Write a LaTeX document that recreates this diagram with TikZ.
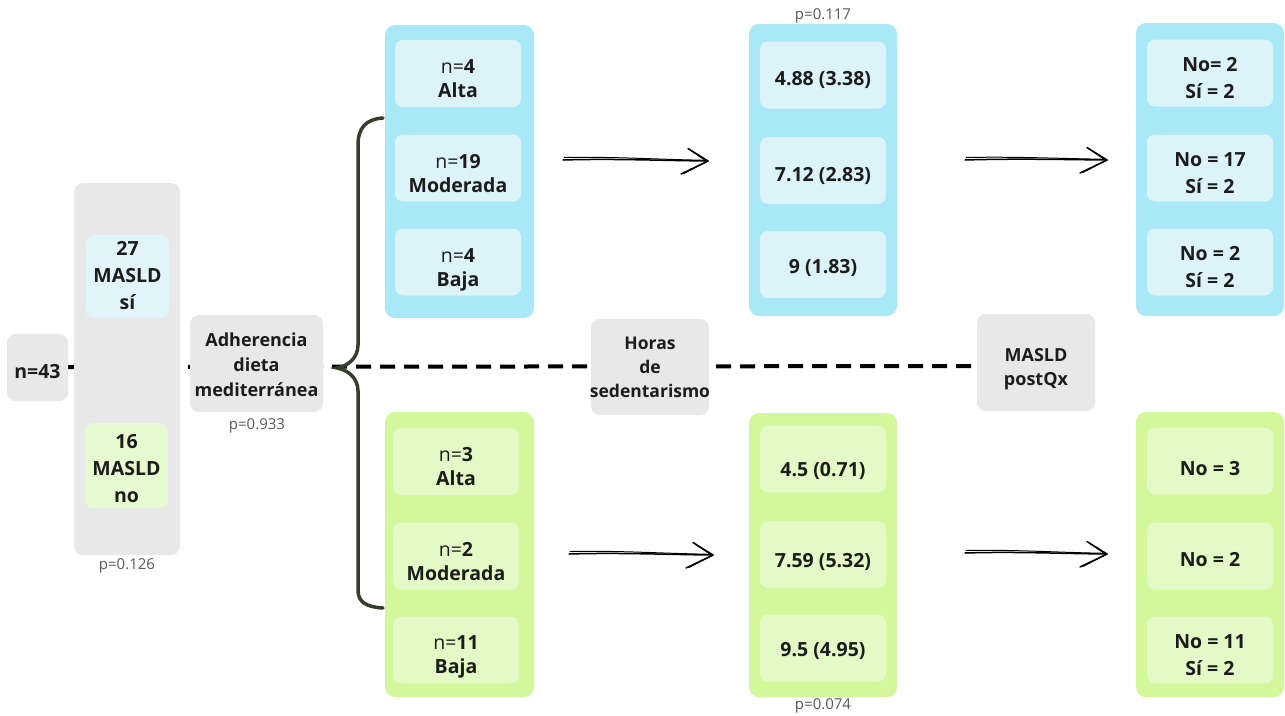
\documentclass[tikz,border=0pt]{standalone}
\usepackage{fontspec}
\setmainfont{Open Sans}
\usetikzlibrary{calc}
\definecolor{panelblue}{HTML}{A9E8F6}
\definecolor{cellblue}{HTML}{DDF3FA}
\definecolor{panelgreen}{HTML}{D3F79B}
\definecolor{cellgreen}{HTML}{E3F9C6}
\definecolor{leftblue}{HTML}{E0F4FA}
\definecolor{leftgreen}{HTML}{E6FAD0}
\definecolor{boxgray}{HTML}{E8E8E8}
\definecolor{txt}{HTML}{1C1C1C}
\definecolor{pgray}{HTML}{5A5A5A}
\definecolor{bracecol}{HTML}{333F2A}
% #1 name, #2 fill, #3 x, #4 y, #5 text offset (down), #6 font, #7 text
\newcommand\mycell[7]{%
  \node[cellbox, fill=#2] (#1) at (#3,#4) {};
  \node[font=#6] (#1t) at ($(#1.center)+(0,#5)$) {#7};
}
\newcommand\regfont{\fontsize{19.5}{24}\selectfont}
\newcommand\boldfont{\bfseries\fontsize{19.5}{24}\selectfont}
\newcommand\boldwide{\bfseries\fontsize{19.5}{27}\selectfont}
\begin{document}
\begin{tikzpicture}[x=1pt,y=-1pt,
  every node/.style={inner sep=0pt, outer sep=0pt, text=txt, align=center},
  panelbox/.style={rounded corners=10pt, minimum width=149pt},
  cellbox/.style={rounded corners=8pt, minimum width=126pt, minimum height=67pt},
  graybox/.style={fill=boxgray, rounded corners=9pt},
  pval/.style={text=pgray, font=\fontsize{15}{18}\selectfont},
  dashline/.style={line width=4pt, dash pattern=on 15pt off 9pt, black},
  sketch/.style={line width=1.3pt, black, line cap=round, line join=round},
  bracestyle/.style={line width=3.5pt, bracecol, line cap=round}
]
\useasboundingbox (0,0) rectangle (1285,715);
\fill[white] (0,0) rectangle (1285,715);

% ---------- boxes on the dashed spine ----------
\node[graybox, minimum width=61pt, minimum height=67pt] (n43) at (37.5,367.5) {};
\node[graybox, minimum width=118pt, minimum height=97pt] (postqx) at (1036,362.5) {};

% dashed spine (behind the boxes)
\draw[dashline] (n43.east |- 0,367) -- (postqx.west |- 0,366);

\node[graybox, minimum width=61pt, minimum height=67pt] at (n43) {};
\node[font=\bfseries\fontsize{19.5}{24}\selectfont] (n43t) at (37.5,371.5) {n=43};
\node[graybox, minimum width=118pt, minimum height=97pt] at (postqx) {};
\node[font=\bfseries\fontsize{18}{23.3}\selectfont] (postqxt) at (1036,369) {MASLD\\postQx};

% ---------- left column ----------
\node[graybox, minimum width=106pt, minimum height=372pt] (masld) at (127,369) {};
\node[fill=leftblue, rounded corners=8pt, minimum width=83pt, minimum height=83pt] (si) at (127.5,276.5) {};
\node[font=\bfseries\fontsize{19.5}{27}\selectfont] (sit) at (127.5,276) {27\\MASLD\\sí};
\node[fill=leftgreen, rounded corners=8pt, minimum width=83pt, minimum height=85pt] (no) at (126.5,465.5) {};
\node[font=\bfseries\fontsize{19.5}{27}\selectfont] (not) at (126.5,468.3) {16\\MASLD\\no};
\node[pval] (p126) at (127,566) {p=0.126};

\node[graybox, minimum width=133pt, minimum height=97pt] (adh) at (256.5,363.5) {};
\node[font=\bfseries\fontsize{18}{25}\selectfont] (adht) at (256.5,365) {Adherencia\\dieta\\mediterránea};
\node[pval] (p933) at (257,426) {p=0.933};

\node[graybox, minimum width=118pt, minimum height=96pt] (horas) at (650,367) {};
\node[font=\bfseries\fontsize{17.5}{24}\selectfont] (horast) at (650,367.8) {Horas\\de\\sedentarismo};

% ---------- brace ----------
\draw[bracestyle] (383,118) .. controls (366,119) and (358,128) .. (358,145) -- (358,345)
   .. controls (358,358) and (348,366) .. (337,368)
   .. controls (348,370) and (358,378) .. (358,391) -- (358,590)
   .. controls (358,602) and (366,607) .. (383,608);

% ---------- blue panels ----------
\node[panelbox, fill=panelblue, minimum height=293pt] (bp1) at (459.5,171.5) {};
\mycell{b11}{cellblue}{458}{73.5}{5.5}{\regfont}{n=\textbf{4}\\\textbf{Alta}}
\mycell{b12}{cellblue}{458}{168}{5.5}{\regfont}{n=\textbf{19}\\\textbf{Moderada}}
\mycell{b13}{cellblue}{458}{262}{7.8}{\regfont}{n=\textbf{4}\\\textbf{Baja}}

\node[panelbox, fill=panelblue, minimum width=148pt, minimum height=292pt] (bp2) at (823,170) {};
\mycell{b21}{cellblue}{823}{75}{5.3}{\boldfont}{4.88 (3.38)}
\mycell{b22}{cellblue}{823}{170.5}{5.5}{\boldfont}{7.12 (2.83)}
\mycell{b23}{cellblue}{823}{264.5}{3.8}{\boldfont}{9 (1.83)}
\node[pval] (p117) at (823,16) {p=0.117};

\node[panelbox, fill=panelblue, minimum width=148pt, minimum height=293pt] (bp3) at (1210,169.5) {};
\mycell{b31}{cellblue}{1210}{73}{5.5}{\boldwide}{No= 2\\Sí = 2}
\mycell{b32}{cellblue}{1210}{168}{5}{\boldwide}{No = 17\\Sí = 2}
\mycell{b33}{cellblue}{1210}{262}{5}{\boldwide}{No = 2\\Sí = 2}

% ---------- green panels ----------
\node[panelbox, fill=panelgreen, minimum height=285pt] (gp1) at (459.5,554.5) {};
\mycell{g11}{cellgreen}{456}{461.5}{5}{\regfont}{n=\textbf{3}\\\textbf{Alta}}
\mycell{g12}{cellgreen}{456}{556}{6}{\regfont}{n=\textbf{2}\\\textbf{Moderada}}
\mycell{g13}{cellgreen}{456}{650}{7}{\regfont}{n=\textbf{11}\\\textbf{Baja}}

\node[panelbox, fill=panelgreen, minimum width=148pt, minimum height=284pt] (gp2) at (823,555) {};
\mycell{g21}{cellgreen}{823}{459}{12}{\boldfont}{4.5 (0.71)}
\mycell{g22}{cellgreen}{823}{554.5}{7.5}{\boldfont}{7.59 (5.32)}
\mycell{g23}{cellgreen}{823}{648}{2.5}{\boldfont}{9.5 (4.95)}
\node[pval] (p074) at (823,706) {p=0.074};

\node[panelbox, fill=panelgreen, minimum width=148pt, minimum height=285pt] (gp3) at (1210,554.5) {};
\mycell{g31}{cellgreen}{1210}{461}{7.5}{\boldfont}{No = 3}
\mycell{g32}{cellgreen}{1210}{556}{4}{\boldfont}{No = 2}
\mycell{g33}{cellgreen}{1210}{650}{4.7}{\boldwide}{No = 11\\Sí = 2}

% ---------- sketchy arrows ----------
\coordinate (a1s) at (563,160);  \coordinate (a1e) at (708,161);
\coordinate (a2s) at (965,160);  \coordinate (a2e) at (1107,160);
\coordinate (a3s) at (569,554);  \coordinate (a3e) at (713,555);
\coordinate (a4s) at (965,553);  \coordinate (a4e) at (1107,554);

\foreach \s/\e in {a1s/a1e, a2s/a2e, a3s/a3e, a4s/a4e}{
  \draw[sketch, line width=1.5pt] (\s) .. controls ($(\s)+(50,-1.5)$) and ($(\e)+(-50,-0.5)$) .. (\e);
  \draw[sketch, line width=1pt] ($(\s)+(1,-2.5)$) .. controls ($(\s)+(50,-3.5)$) and ($(\e)+(-50,-1.5)$) .. ($(\e)+(-6,-0.8)$);
  \draw[sketch, line width=1.5pt] ($(\e)+(-20,-12.5)$) -- (\e) -- ($(\e)+(-27,13)$);
  \draw[sketch, line width=0.9pt] ($(\e)+(-18,-11)$) -- ($(\e)+(-1,0.6)$) -- ($(\e)+(-24,12.5)$);
}
\end{tikzpicture}
\end{document}
